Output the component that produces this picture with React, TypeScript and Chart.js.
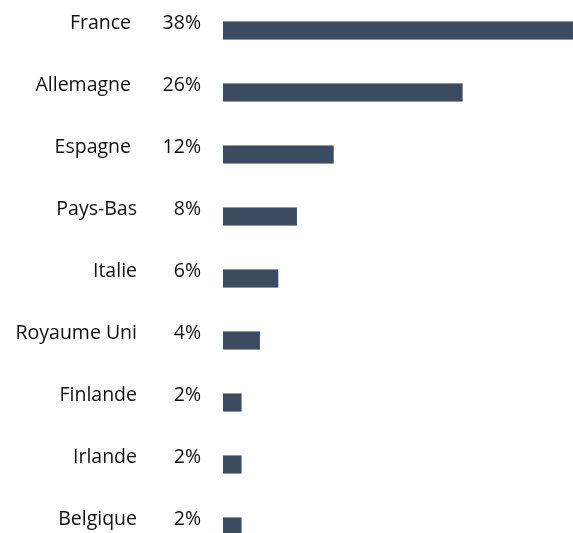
import React, { useEffect, useRef } from "react";
import { Chart, registerables } from "chart.js";

Chart.register(...registerables);

const countries = ["France", "Allemagne", "Espagne", "Pays-Bas", "Italie", "Royaume Uni", "Finlande", "Irlande", "Belgique"];
const shares = [38, 26, 12, 8, 6, 4, 2, 2, 2];
const shareLabels = ["38%", "26%", "12%", "8%", "6%", "4%", "2%", "2%", "2%"];

const BAR_COLOR = "#3b4b60";
const FONT = '19.5px "Open Sans", "Noto Sans", sans-serif';

const labelPlugin = {
  id: "rowLabels",
  afterDatasetsDraw(chart: any) {
    const ctx = chart.ctx;
    const yScale = chart.scales.y;
    ctx.save();
    ctx.font = FONT;
    ctx.fillStyle = "#111111";
    ctx.textBaseline = "alphabetic";
    countries.forEach((name, i) => {
      const y = yScale.getPixelForValue(i) - 1.5;
      ctx.textAlign = "right";
      ctx.fillText(shareLabels[i], 201, y);
      const nameRight = shareLabels[i].length > 2 ? 131 : 137;
      ctx.fillText(name, nameRight, y);
    });
    ctx.restore();
  },
};

export default function App() {
  const ref = useRef<HTMLCanvasElement | null>(null);
  useEffect(() => {
    document.body.style.margin = "0";
    if (!ref.current) return;
    const span = 533 / 62;
    const yMin = -30.5 / 62;
    const chart = new Chart(ref.current, {
      type: "bar",
      data: {
        datasets: [
          {
            data: shares.map((v, i) => ({ x: v, y: i })),
            backgroundColor: BAR_COLOR,
            borderColor: "#55667b",
            borderWidth: 0.6,
            barThickness: 18,
          },
        ],
      },
      options: {
        indexAxis: "y",
        responsive: false,
        animation: false,
        layout: { padding: { left: 223, right: 0, top: 0, bottom: 0 } },
        plugins: { legend: { display: false }, tooltip: { enabled: false } },
        scales: {
          x: { type: "linear", min: 0, max: 38, display: false, offset: false },
          y: { type: "linear", min: yMin, max: yMin + span, reverse: true, display: false, offset: false },
        },
      },
      plugins: [labelPlugin],
    } as any);
    return () => chart.destroy();
  }, []);
  return <canvas ref={ref} width={573} height={533} style={{ display: "block" }} />;
}
